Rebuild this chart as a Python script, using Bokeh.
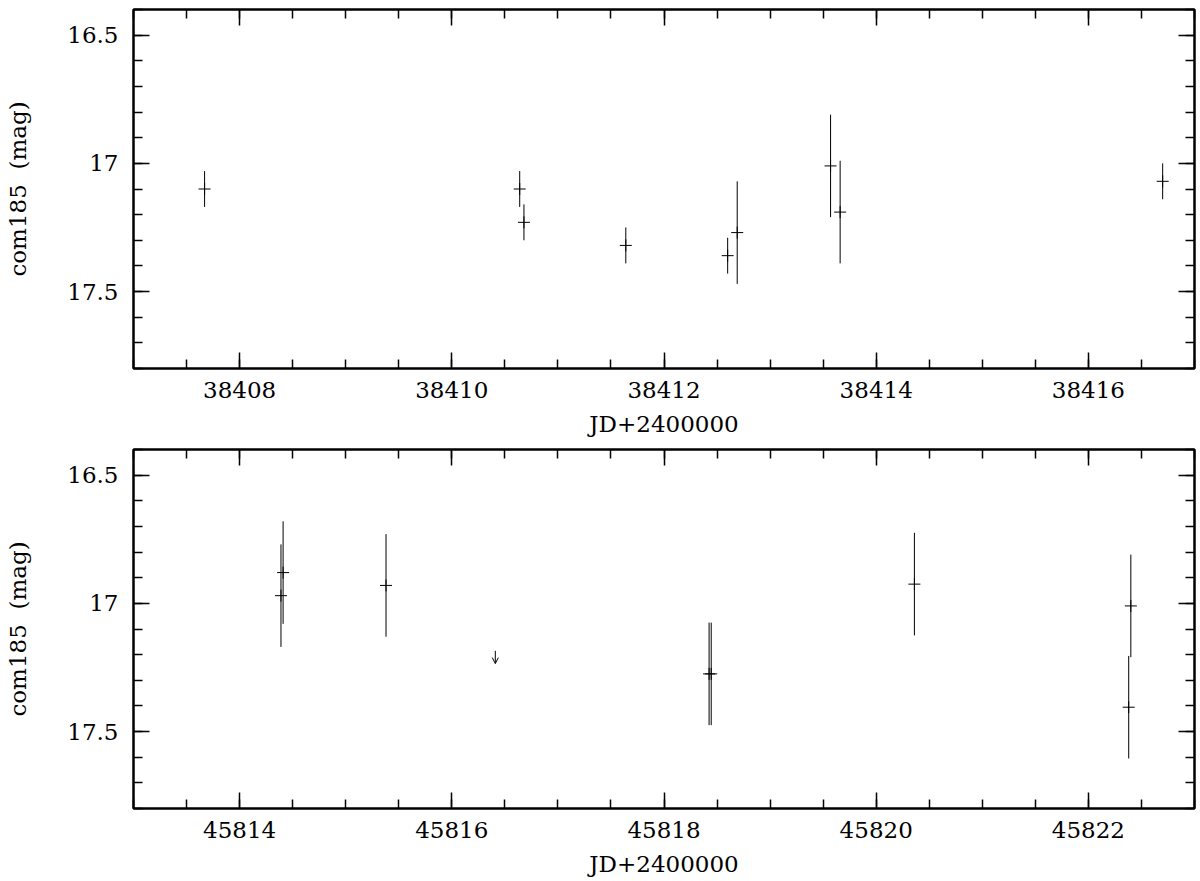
import numpy as np
from bokeh.plotting import figure
from bokeh.layouts import column
from bokeh.models import (Range1d, FixedTicker, LinearAxis, CustomJSTickFormatter,
                          ColumnDataSource, Arrow, OpenHead)
from bokeh.embed import file_html
from bokeh.resources import INLINE

# ---- data ----
top_jd = [38407.67, 38410.64, 38410.68, 38411.64, 38412.60, 38412.69, 38413.57, 38413.66, 38416.70]
top_mag = [17.10, 17.10, 17.23, 17.32, 17.36, 17.27, 17.01, 17.19, 17.07]
top_err = [0.07, 0.07, 0.07, 0.07, 0.07, 0.20, 0.20, 0.20, 0.07]

bot_jd = [45814.39, 45814.41, 45815.38, 45818.425, 45818.445, 45820.36, 45822.40, 45822.38]
bot_mag = [16.97, 16.88, 16.93, 17.275, 17.275, 16.925, 17.01, 17.405]
bot_err = [0.20, 0.20, 0.20, 0.20, 0.20, 0.20, 0.20, 0.20]

# upper limit (arrow) in the lower panel
lim_jd = [45816.41]
lim_mag = [17.185]

top_xticks = [38408, 38410, 38412, 38414, 38416]
bot_xticks = [45814, 45816, 45818, 45820, 45822]
y_ticks = [16.5, 17.0, 17.5]

top_xrange = (38407, 38417)
bot_xrange = (45813, 45823)
y_range = (17.8, 16.4)

x_label = "JD+2400000"
y_label = "com185\u00a0\u00a0(mag)"

FONT = "DejaVu Serif"
FS = "23px"

fmt_js = "return tick.toString();"


def style_axis(ax, ticker, show_labels):
    ax.ticker = ticker
    ax.formatter = CustomJSTickFormatter(code=fmt_js)
    ax.major_tick_in = 16
    ax.major_tick_out = 0
    ax.minor_tick_in = 9
    ax.minor_tick_out = 0
    ax.major_tick_line_color = "black"
    ax.minor_tick_line_color = "black"
    ax.major_tick_line_width = 1.5
    ax.minor_tick_line_width = 1.5
    ax.axis_line_color = "black"
    ax.axis_line_width = 2
    ax.major_label_text_font = FONT
    ax.axis_label_text_font = FONT
    ax.axis_label_text_font_style = "normal"
    ax.axis_label_text_color = "black"
    if show_labels:
        ax.major_label_text_color = "black"
        ax.major_label_text_font_size = FS
        ax.axis_label_text_font_size = FS
    else:
        ax.major_label_text_color = None
        ax.major_label_text_font_size = "1px"
        ax.major_label_standoff = 0
        ax.axis_label = None


def make_panel(jd, mag, err, xr, xticks, height, border_top, border_bottom,
               lab_standoff, axlab_standoff, lim=None):
    p = figure(width=1198, height=height, output_backend="svg", toolbar_location=None,
               x_range=Range1d(*xr), y_range=Range1d(*y_range),
               min_border_left=133, min_border_right=4, min_border_top=border_top,
               min_border_bottom=border_bottom, x_axis_location="below")
    p.xgrid.visible = False
    p.ygrid.visible = False
    p.outline_line_color = "black"
    p.outline_line_width = 2
    p.background_fill_color = "white"
    p.border_fill_color = "white"

    xminor = list(np.arange(xr[0], xr[1] + 0.001, 0.5))
    yminor = list(np.round(np.arange(16.4, 17.8 + 0.001, 0.1), 2))

    style_axis(p.xaxis[0], FixedTicker(ticks=xticks, minor_ticks=xminor), True)
    style_axis(p.yaxis[0], FixedTicker(ticks=y_ticks, minor_ticks=yminor), True)
    p.xaxis[0].axis_label = x_label
    p.yaxis[0].axis_label = y_label
    p.xaxis[0].major_label_standoff = lab_standoff
    p.xaxis[0].axis_label_standoff = axlab_standoff
    p.yaxis[0].major_label_standoff = 15
    p.yaxis[0].axis_label_standoff = 33

    top_ax = LinearAxis()
    style_axis(top_ax, FixedTicker(ticks=xticks, minor_ticks=xminor), False)
    p.add_layout(top_ax, "above")
    right_ax = LinearAxis()
    style_axis(right_ax, FixedTicker(ticks=y_ticks, minor_ticks=yminor), False)
    p.add_layout(right_ax, "right")

    jd_a = np.array(jd)
    mag_a = np.array(mag)
    err_a = np.array(err)
    src = ColumnDataSource(dict(x=jd_a, y=mag_a, lo=mag_a - err_a, hi=mag_a + err_a))
    p.segment(x0="x", y0="lo", x1="x", y1="hi", source=src, line_color="black", line_width=1)
    p.scatter(x="x", y="y", source=src, marker="cross", size=12, line_color="black",
              line_width=1)

    if lim is not None:
        lx, ly = lim
        ly_a = np.array(ly)
        asrc = ColumnDataSource(dict(x=lx, y0=ly_a, y1=ly_a + 0.05))
        p.add_layout(Arrow(end=OpenHead(size=6, line_color="black", line_width=1),
                           x_start="x", y_start="y0", x_end="x", y_end="y1",
                           source=asrc, line_color="black", line_width=1))
    return p


p1 = make_panel(top_jd, top_mag, top_err, top_xrange, top_xticks, 448, 9, 80, 13, 10)
p2 = make_panel(bot_jd, bot_mag, bot_err, bot_xrange, bot_xticks, 437, 1, 77, 13, 10,
                lim=(lim_jd, lim_mag))

layout = column(p1, p2, spacing=0)
open("out.html", "w").write(file_html(layout, INLINE))
